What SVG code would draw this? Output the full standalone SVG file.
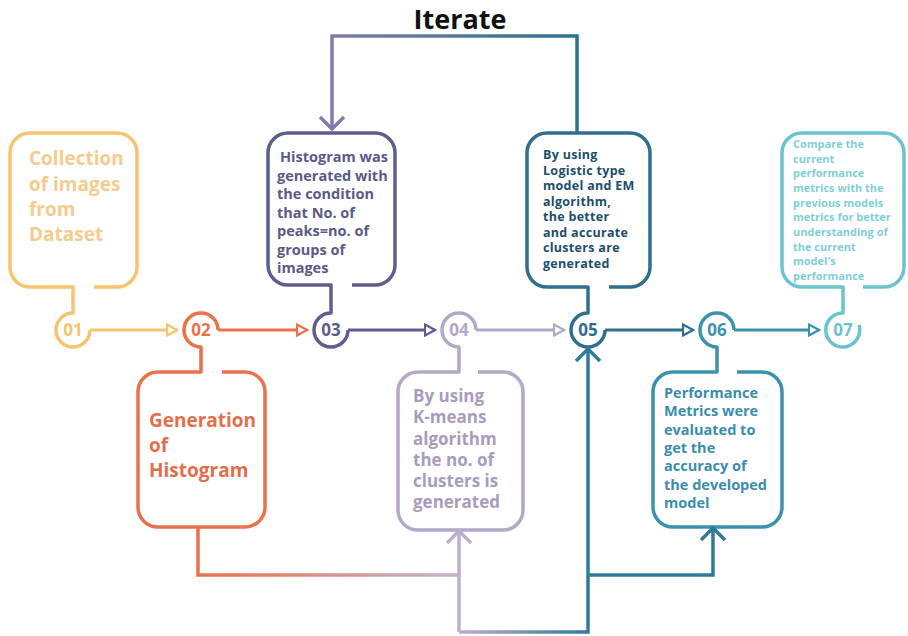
<svg xmlns="http://www.w3.org/2000/svg" width="908" height="636" viewBox="0 0 908 636">
<style>
  text { font-family: "Open Sans", "Liberation Sans", sans-serif; font-weight: 700; }
  .box { fill: none; stroke-width: 3.5; stroke-linejoin: round; }
  .link { fill: none; stroke-width: 3; }
  .big { fill: none; stroke-width: 3.5; stroke-linejoin: miter; }
  .num { font-size: 17px; text-anchor: middle; }
  .c1 { stroke: #F5C46F; } .t1 { fill: #F4CC8E; }
  .c2 { stroke: #E8724A; } .t2 { fill: #E36F4A; }
  .c3 { stroke: #5E5D8E; } .t3 { fill: #5A5988; }
  .c4 { stroke: #B3A8C5; } .t4 { fill: #A99CBB; }
  .c5 { stroke: #2F6E8E; } .t5 { fill: #204D6C; }
  .c6 { stroke: #3C91AF; } .t6 { fill: #3A8DAC; }
  .c7 { stroke: #6AC4CE; } .t7 { fill: #80CFD6; }
  .n1 { fill: #F5C46F; } .n2 { fill: #E8724A; } .n3 { fill: #5E5D8E; } .n4 { fill: #B3A8C5; }
  .n5 { fill: #2F6E8E; } .n6 { fill: #3C91AF; } .n7 { fill: #6AC4CE; }
</style>
<defs>
  <linearGradient id="gIter" gradientUnits="userSpaceOnUse" x1="332" y1="0" x2="577" y2="0">
    <stop offset="0" stop-color="#7F7BAD"/><stop offset="1" stop-color="#2C7391"/>
  </linearGradient>
  <linearGradient id="gLow" gradientUnits="userSpaceOnUse" x1="198" y1="0" x2="459" y2="0">
    <stop offset="0" stop-color="#E8724A"/><stop offset="1" stop-color="#C2B4CC"/>
  </linearGradient>
  <linearGradient id="gBot" gradientUnits="userSpaceOnUse" x1="459" y1="0" x2="588" y2="0">
    <stop offset="0" stop-color="#BBAFCB"/><stop offset="1" stop-color="#2F7A98"/>
  </linearGradient>
  <marker id="a1" markerUnits="userSpaceOnUse" viewBox="-1 -7 13 14" markerWidth="13" markerHeight="14" refX="10" refY="0" orient="auto"><path d="M0,-5.5 L10,0 L0,5.5 Z" fill="#fff" stroke="#F5C46F" stroke-width="2.2"/></marker>
  <marker id="a2" markerUnits="userSpaceOnUse" viewBox="-1 -7 13 14" markerWidth="13" markerHeight="14" refX="10" refY="0" orient="auto"><path d="M0,-5.5 L10,0 L0,5.5 Z" fill="#fff" stroke="#E8724A" stroke-width="2.2"/></marker>
  <marker id="a3" markerUnits="userSpaceOnUse" viewBox="-1 -7 13 14" markerWidth="13" markerHeight="14" refX="10" refY="0" orient="auto"><path d="M0,-5.5 L10,0 L0,5.5 Z" fill="#fff" stroke="#5E5D8E" stroke-width="2.2"/></marker>
  <marker id="a4" markerUnits="userSpaceOnUse" viewBox="-1 -7 13 14" markerWidth="13" markerHeight="14" refX="10" refY="0" orient="auto"><path d="M0,-5.5 L10,0 L0,5.5 Z" fill="#fff" stroke="#B3A8C5" stroke-width="2.2"/></marker>
  <marker id="a5" markerUnits="userSpaceOnUse" viewBox="-1 -7 13 14" markerWidth="13" markerHeight="14" refX="10" refY="0" orient="auto"><path d="M0,-5.5 L10,0 L0,5.5 Z" fill="#fff" stroke="#2F6E8E" stroke-width="2.2"/></marker>
  <marker id="a6" markerUnits="userSpaceOnUse" viewBox="-1 -7 13 14" markerWidth="13" markerHeight="14" refX="10" refY="0" orient="auto"><path d="M0,-5.5 L10,0 L0,5.5 Z" fill="#fff" stroke="#3C91AF" stroke-width="2.2"/></marker>
  <marker id="vPur" markerUnits="userSpaceOnUse" viewBox="-16 -16 19 32" markerWidth="19" markerHeight="32" refX="0" refY="0" orient="auto"><path d="M-12,-12 L0,0 L-12,12" fill="none" stroke="#7F7BAD" stroke-width="3.5"/></marker>
  <marker id="vLil" markerUnits="userSpaceOnUse" viewBox="-16 -16 19 32" markerWidth="19" markerHeight="32" refX="0" refY="0" orient="auto"><path d="M-12,-12 L0,0 L-12,12" fill="none" stroke="#BBAFCB" stroke-width="3.5"/></marker>
  <marker id="vTeal" markerUnits="userSpaceOnUse" viewBox="-16 -16 19 32" markerWidth="19" markerHeight="32" refX="0" refY="0" orient="auto"><path d="M-12,-12 L0,0 L-12,12" fill="none" stroke="#2F7A98" stroke-width="3.5"/></marker>
</defs>
<rect width="908" height="636" fill="#ffffff"/>

<text x="460" y="29" font-size="27" text-anchor="middle" fill="#111111">Iterate</text>

<g id="node-01">
  <path class="box c1" d="M94,287 H117 A20,20 0 0 0 137,267 V153 A20,20 0 0 0 117,133 H30 A20,20 0 0 0 10,153 V267 A20,20 0 0 0 30,287 H73 V313 A17,17 0 1 0 90,330"/>
  <text class="num n1" x="73" y="336">01</text>
  <text class="t1" font-size="19"><tspan x="29" y="165">Collection</tspan><tspan x="29" y="191">of images</tspan><tspan x="29" y="216">from</tspan><tspan x="29" y="241">Dataset</tspan></text>
</g>

<g id="node-02">
  <path class="box c2" d="M222,372 H245 A20,20 0 0 1 265,392 V507 A20,20 0 0 1 245,527 H158 A20,20 0 0 1 138,507 V392 A20,20 0 0 1 158,372 H201 V347 A17,17 0 1 1 218,330"/>
  <text class="num n2" x="201" y="336">02</text>
  <text class="t2" font-size="19"><tspan x="149" y="427">Generation</tspan><tspan x="149" y="452">of</tspan><tspan x="149" y="477">Histogram</tspan></text>
</g>

<g id="node-03">
  <path class="box c3" d="M352,285 H375 A20,20 0 0 0 395,265 V153 A20,20 0 0 0 375,133 H288 A20,20 0 0 0 268,153 V265 A20,20 0 0 0 288,285 H331 V313 A17,17 0 1 0 348,330"/>
  <text class="num n3" x="331" y="336">03</text>
  <text class="t3" font-size="14.5"><tspan x="280" y="162">Histogram was</tspan><tspan x="277" y="180.5">generated with</tspan><tspan x="277" y="199">the condition</tspan><tspan x="277" y="217.5">that No. of</tspan><tspan x="277" y="236">peaks=no. of</tspan><tspan x="277" y="254.5">groups of</tspan><tspan x="277" y="273">images</tspan></text>
</g>

<g id="node-04">
  <path class="box c4" d="M478,372 H503 A20,20 0 0 1 523,392 V510 A20,20 0 0 1 503,530 H418 A20,20 0 0 1 398,510 V392 A20,20 0 0 1 418,372 H459 V347 A17,17 0 1 1 476,330"/>
  <text class="num n4" x="459" y="336">04</text>
  <text class="t4" font-size="17"><tspan x="413" y="402">By using</tspan><tspan x="413" y="423">K-means</tspan><tspan x="413" y="444.5">algorithm</tspan><tspan x="413" y="466">the no. of</tspan><tspan x="413" y="487">clusters is</tspan><tspan x="413" y="508">generated</tspan></text>
</g>

<g id="node-05">
  <path class="box c5" d="M609,287 H630 A20,20 0 0 0 650,267 V153 A20,20 0 0 0 630,133 H547 A20,20 0 0 0 527,153 V267 A20,20 0 0 0 547,287 H588 V313 A17,17 0 1 0 605,330"/>
  <text class="num n5" x="588" y="336">05</text>
  <text class="t5" font-size="12.5" letter-spacing="0.3"><tspan x="543" y="159">By using</tspan><tspan x="543" y="174.5">Logistic type</tspan><tspan x="543" y="190">model and EM</tspan><tspan x="543" y="205.5">algorithm,</tspan><tspan x="543" y="221">the better</tspan><tspan x="543" y="236.5">and accurate</tspan><tspan x="543" y="252">clusters are</tspan><tspan x="543" y="267.5">generated</tspan></text>
</g>

<g id="node-06">
  <path class="box c6" d="M737,372 H762 A20,20 0 0 1 782,392 V507 A20,20 0 0 1 762,527 H673 A20,20 0 0 1 653,507 V392 A20,20 0 0 1 673,372 H717 V347 A17,17 0 1 1 734,330"/>
  <text class="num n6" x="717" y="336">06</text>
  <text class="t6" font-size="14.5"><tspan x="664" y="398">Performance</tspan><tspan x="664" y="416.3">Metrics were</tspan><tspan x="664" y="434.7">evaluated to</tspan><tspan x="664" y="453">get the</tspan><tspan x="664" y="471.3">accuracy of</tspan><tspan x="664" y="489.7">the developed</tspan><tspan x="664" y="508">model</tspan></text>
</g>

<g id="node-07">
  <path class="box c7" d="M863,287 H884 A20,20 0 0 0 904,267 V153 A20,20 0 0 0 884,133 H802 A20,20 0 0 0 782,153 V267 A20,20 0 0 0 802,287 H843 V313 A17,17 0 1 0 859,325"/>
  <text class="num n7" x="843" y="336">07</text>
  <text class="t7" font-size="11"><tspan x="793" y="148">Compare the</tspan><tspan x="793" y="162.7">current</tspan><tspan x="793" y="177.3">performance</tspan><tspan x="793" y="192">metrics with the</tspan><tspan x="793" y="206.7">previous models</tspan><tspan x="793" y="221.3">metrics for better</tspan><tspan x="793" y="236">understanding of</tspan><tspan x="793" y="250.7">the current</tspan><tspan x="793" y="265.3">model's</tspan><tspan x="793" y="280">performance</tspan></text>
</g>

<g id="connectors">
  <path class="link c1" d="M90,330 H177" marker-end="url(#a1)"/>
  <path class="link c2" d="M218,330 H307" marker-end="url(#a2)"/>
  <path class="link c3" d="M348,330 H435" marker-end="url(#a3)"/>
  <path class="link c4" d="M476,330 H564" marker-end="url(#a4)"/>
  <path class="link c5" d="M605,330 H693" marker-end="url(#a5)"/>
  <path class="link c6" d="M734,330 H819" marker-end="url(#a6)"/>
  <path class="big" stroke="url(#gIter)" d="M577,133 V36 H332 V129" marker-end="url(#vPur)"/>
  <path class="big" stroke="url(#gLow)" d="M198,527 V575 H459"/>
  <path class="big" stroke="#BBAFCB" d="M459,632 V531" marker-end="url(#vLil)"/>
  <path class="big" stroke="url(#gBot)" d="M459,632 H588 V349" marker-end="url(#vTeal)"/>
  <path class="big" stroke="#2F7A98" d="M588,575 H713 V528" marker-end="url(#vTeal)"/>
</g>
</svg>
